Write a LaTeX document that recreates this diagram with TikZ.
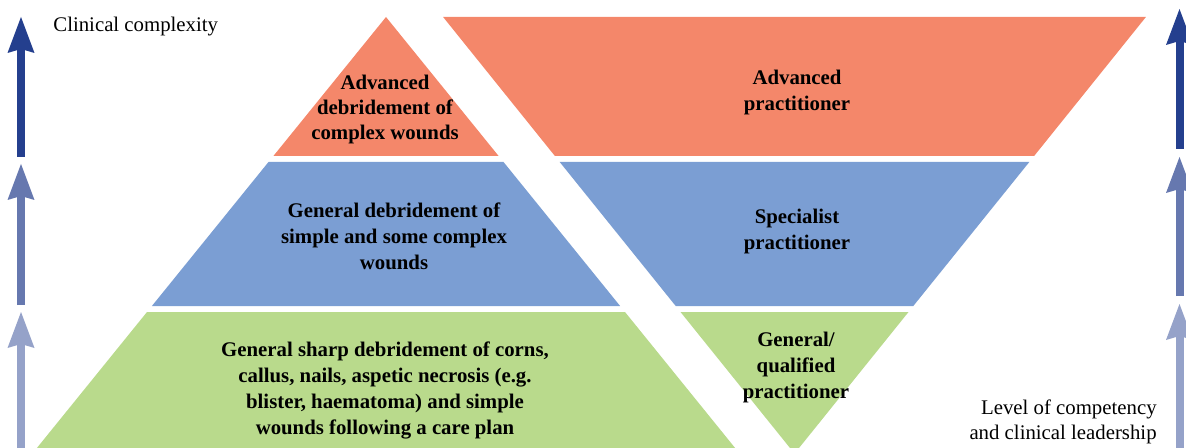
\documentclass[tikz,border=0pt]{standalone}
\usepackage{fontspec}
\setmainfont{Liberation Serif}
\usetikzlibrary{arrows.meta}
\definecolor{tierorange}{RGB}{244,135,106}
\definecolor{tierblue}{RGB}{123,158,211}
\definecolor{tiergreen}{RGB}{185,218,140}
\definecolor{scaledark}{RGB}{36,63,142}
\definecolor{scalemid}{RGB}{102,120,175}
\definecolor{scalelight}{RGB}{149,162,201}

\begin{document}
\begin{tikzpicture}[
  x=0.5pt,y=-0.5pt,
  tiertext/.style={inner sep=0pt,align=center,font=\bfseries\fontsize{10.4}{13}\selectfont},
  axistext/.style={inner sep=0pt,font=\fontsize{10.4}{12.5}\selectfont},
  scalearr/.style={line width=4pt,-{Stealth[length=18pt,width=13.5pt,inset=2pt,line width=0pt]}}
]
\useasboundingbox (0,0) rectangle (1186,448);
\clip (0,0) rectangle (1186,448);

% pyramid: skills
\fill[tierorange] (386,17) -- (498.6,156) -- (273.4,156) -- cycle;
\fill[tierblue] (268.5,162) -- (503.5,162) -- (620.1,306) -- (151.9,306) -- cycle;
\fill[tiergreen] (147,312) -- (625,312) -- (735.1,448) -- (36.9,448) -- cycle;

% inverted pyramid: practitioners
\fill[tierorange] (443.1,17) -- (1145.9,17) -- (1034.1,156) -- (554.9,156) -- cycle;
\fill[tierblue] (559.7,162) -- (1029.3,162) -- (913.3,306) -- (675.7,306) -- cycle;
\fill[tiergreen] (680.5,312) -- (908.5,312) -- (794.5,453.6) -- cycle;

\node[tiertext,font=\bfseries\fontsize{10.4}{12.5}\selectfont] (advwound) at (385,110) {Advanced\\debridement of\\complex wounds};
\node[tiertext] (genwound) at (394,236) {General debridement of\\simple and some complex\\wounds};
\node[tiertext] (sharpwound) at (385,390) {General sharp debridement of corns,\\callus, nails, aspetic necrosis (e.g.\\blister, haematoma) and simple\\wounds following a care plan};

\node[tiertext] (advprac) at (797,93) {Advanced\\practitioner};
\node[tiertext] (specprac) at (797,231) {Specialist\\practitioner};
\node[tiertext] (genprac) at (796,367) {General/\\qualified\\practitioner};

% scales on both sides
\coordinate (l1a) at (21,157);  \coordinate (l1b) at (21,17);
\coordinate (l2a) at (21,305);  \coordinate (l2b) at (21,164);
\coordinate (l3a) at (21,450);  \coordinate (l3b) at (21,312);
\coordinate (r1a) at (1179.5,149); \coordinate (r1b) at (1179.5,9);
\coordinate (r2a) at (1179.5,296); \coordinate (r2b) at (1179.5,157);
\coordinate (r3a) at (1179.5,450); \coordinate (r3b) at (1179.5,304);

\draw[scalearr,scaledark] (l1a) -- (l1b);
\draw[scalearr,scalemid] (l2a) -- (l2b);
\draw[scalearr,scalelight] (l3a) -- (l3b);
\draw[scalearr,scaledark] (r1a) -- (r1b);
\draw[scalearr,scalemid] (r2a) -- (r2b);
\draw[scalearr,scalelight] (r3a) -- (r3b);

\node[axistext,anchor=base west] (complexity) at (53,32) {Clinical complexity};
\node[axistext,align=right,anchor=south east] (competency) at (1157,444) {Level of competency\\and clinical leadership};
\end{tikzpicture}
\end{document}
